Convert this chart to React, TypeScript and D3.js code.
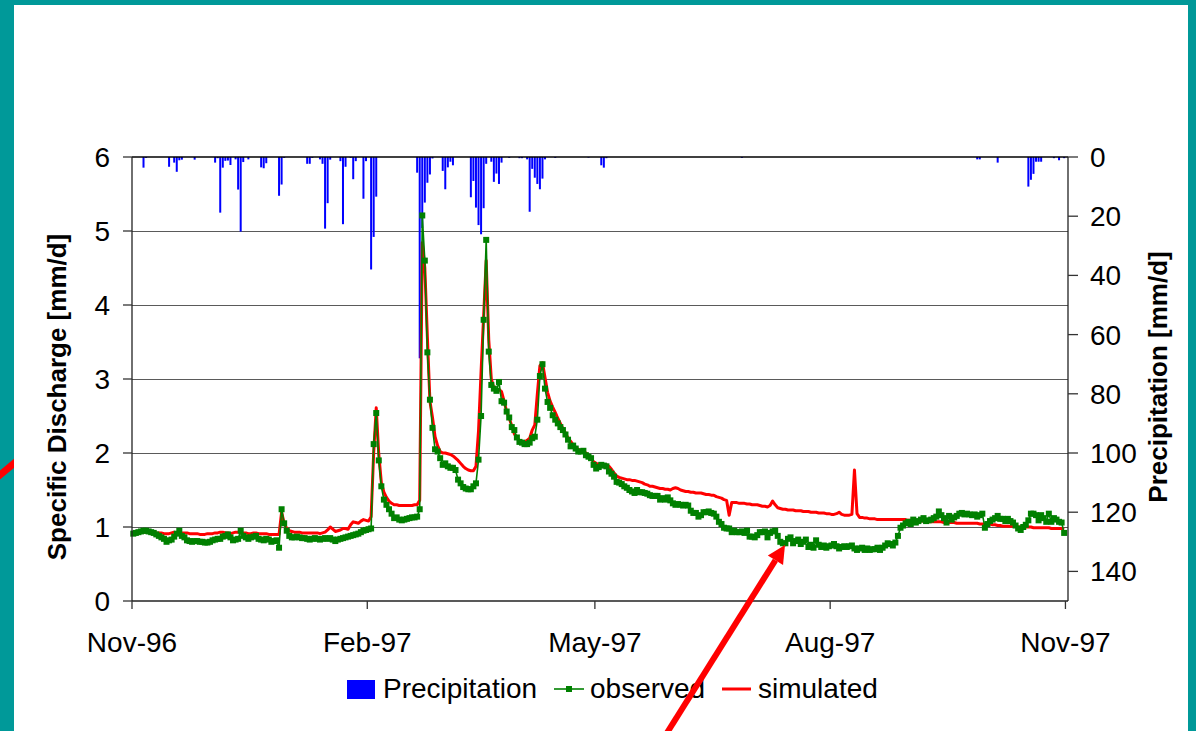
import React from "react";
import * as d3 from "d3";

const startDate = new Date(Date.UTC(1996, 10, 1));
const endDate = new Date(Date.UTC(1997, 10, 2));
const tickDates = [
  new Date(Date.UTC(1996, 10, 1)),
  new Date(Date.UTC(1997, 1, 1)),
  new Date(Date.UTC(1997, 4, 1)),
  new Date(Date.UTC(1997, 7, 1)),
  new Date(Date.UTC(1997, 10, 1)),
];
const tickLabels = ["Nov-96", "Feb-97", "May-97", "Aug-97", "Nov-97"];
const leftTicks = [0, 1, 2, 3, 4, 5, 6];
const rightTicks = [0, 20, 40, 60, 80, 100, 120, 140];
const legendLabels = ["Precipitation", "observed", "simulated"];
const leftTitle = "Specific Discharge [mm/d]";
const rightTitle = "Precipitation [mm/d]";

// daily observed specific discharge, 1 Nov 1996 .. 31 Oct 1997
const observed = [
  0.91,0.92,0.93,0.94,0.95,0.95,0.94,0.93,0.92,0.90,
  0.88,0.86,0.84,0.80,0.82,0.83,0.87,0.91,0.95,0.88,
  0.86,0.82,0.81,0.80,0.81,0.81,0.80,0.80,0.79,0.79,
  0.80,0.82,0.83,0.84,0.84,0.87,0.88,0.90,0.86,0.82,
  0.83,0.84,0.95,0.88,0.86,0.84,0.86,0.87,0.88,0.84,
  0.83,0.82,0.84,0.83,0.80,0.81,0.82,0.72,1.24,1.05,
  0.95,0.88,0.86,0.86,0.87,0.86,0.85,0.85,0.84,0.83,
  0.84,0.85,0.84,0.83,0.84,0.85,0.84,0.85,0.83,0.81,
  0.83,0.84,0.85,0.86,0.87,0.88,0.89,0.90,0.91,0.93,
  0.95,0.96,0.97,0.98,2.12,2.54,1.90,1.55,1.37,1.30,
  1.24,1.18,1.12,1.13,1.10,1.09,1.10,1.11,1.12,1.13,
  1.13,1.14,1.24,5.21,4.60,3.36,2.72,2.34,2.05,2.02,
  1.93,1.84,1.86,1.82,1.80,1.80,1.77,1.64,1.59,1.54,
  1.52,1.51,1.51,1.55,1.59,1.91,2.50,3.80,4.88,3.37,
  2.92,2.87,2.84,2.96,2.70,2.68,2.56,2.48,2.35,2.31,
  2.21,2.15,2.14,2.12,2.12,2.14,2.20,2.22,2.45,3.04,
  3.20,2.87,2.69,2.61,2.51,2.45,2.40,2.35,2.31,2.25,
  2.18,2.09,2.10,2.06,2.02,2.02,2.03,1.97,1.95,1.93,
  1.84,1.79,1.81,1.84,1.83,1.82,1.75,1.72,1.68,1.61,
  1.60,1.58,1.55,1.53,1.50,1.48,1.46,1.50,1.47,1.47,
  1.46,1.45,1.43,1.42,1.42,1.42,1.37,1.39,1.37,1.40,
  1.36,1.32,1.30,1.31,1.30,1.29,1.30,1.29,1.22,1.19,
  1.19,1.14,1.16,1.20,1.20,1.21,1.19,1.18,1.14,1.07,
  1.04,0.99,0.98,0.98,0.93,0.95,0.93,0.93,0.94,0.92,
  0.95,0.87,0.87,0.86,0.89,0.93,0.93,0.94,0.86,0.92,
  0.94,0.95,0.88,0.80,0.78,0.78,0.84,0.86,0.78,0.81,
  0.83,0.77,0.80,0.83,0.73,0.76,0.72,0.82,0.76,0.73,
  0.75,0.72,0.74,0.75,0.77,0.74,0.71,0.73,0.74,0.73,
  0.74,0.75,0.71,0.69,0.71,0.72,0.69,0.71,0.69,0.70,
  0.70,0.72,0.69,0.72,0.75,0.78,0.77,0.75,0.79,0.88,
  0.99,1.02,1.05,1.07,1.04,1.10,1.06,1.08,1.10,1.12,
  1.08,1.09,1.10,1.12,1.14,1.21,1.16,1.12,1.06,1.15,
  1.10,1.13,1.15,1.18,1.19,1.17,1.18,1.17,1.16,1.17,
  1.14,1.16,1.18,0.99,1.04,1.08,1.10,1.12,1.15,1.11,
  1.11,1.08,1.11,1.08,1.06,1.02,0.98,0.96,1.00,1.03,
  1.09,1.18,1.18,1.16,1.09,1.16,1.12,1.07,1.18,1.07,
  1.12,1.10,1.07,1.06,0.92,
];

// daily simulated specific discharge
const simulated = [
  0.93,0.94,0.94,0.94,0.93,0.93,0.93,0.92,0.92,0.92,
  0.92,0.92,0.91,0.91,0.91,0.92,0.93,0.92,0.92,0.92,
  0.92,0.92,0.91,0.91,0.91,0.91,0.90,0.90,0.90,0.91,
  0.91,0.91,0.92,0.92,0.93,0.93,0.92,0.92,0.91,0.92,
  0.93,0.93,0.92,0.92,0.92,0.91,0.91,0.92,0.92,0.91,
  0.91,0.91,0.91,0.90,0.90,0.90,0.90,0.90,1.20,1.05,
  0.98,0.95,0.94,0.93,0.93,0.93,0.92,0.92,0.92,0.92,
  0.92,0.92,0.92,0.91,0.92,0.93,0.96,1.00,0.97,0.94,
  0.95,0.96,0.98,0.98,0.97,1.03,1.07,1.06,1.05,1.08,
  1.10,1.09,1.08,1.14,2.00,2.61,1.98,1.60,1.47,1.40,
  1.35,1.32,1.30,1.30,1.29,1.29,1.29,1.29,1.29,1.29,
  1.30,1.30,1.36,4.84,4.50,3.57,2.70,2.48,2.22,2.10,
  2.02,2.00,2.00,1.99,1.98,1.96,1.93,1.90,1.86,1.82,
  1.79,1.77,1.76,1.76,1.82,2.30,3.10,3.85,4.60,3.53,
  3.00,2.88,2.84,2.86,2.83,2.70,2.56,2.47,2.37,2.26,
  2.20,2.17,2.15,2.15,2.17,2.20,2.31,2.38,2.80,3.18,
  3.22,3.02,2.82,2.70,2.62,2.55,2.47,2.40,2.33,2.27,
  2.20,2.16,2.11,2.08,2.05,2.03,2.01,2.00,1.97,1.93,
  1.88,1.86,1.85,1.84,1.84,1.84,1.82,1.78,1.73,1.69,
  1.67,1.66,1.65,1.64,1.64,1.63,1.63,1.62,1.61,1.60,
  1.58,1.57,1.55,1.55,1.54,1.53,1.52,1.52,1.51,1.51,
  1.50,1.52,1.53,1.52,1.50,1.49,1.48,1.48,1.47,1.47,
  1.46,1.46,1.46,1.45,1.44,1.44,1.43,1.43,1.41,1.40,
  1.39,1.37,1.36,1.16,1.33,1.33,1.33,1.32,1.32,1.32,
  1.31,1.31,1.30,1.30,1.30,1.29,1.28,1.28,1.27,1.29,
  1.35,1.30,1.26,1.25,1.24,1.24,1.23,1.23,1.23,1.22,
  1.22,1.22,1.21,1.21,1.21,1.20,1.20,1.20,1.19,1.19,
  1.19,1.18,1.18,1.17,1.17,1.18,1.20,1.17,1.16,1.16,
  1.16,1.17,1.77,1.18,1.13,1.13,1.12,1.12,1.11,1.11,
  1.11,1.10,1.10,1.10,1.10,1.10,1.10,1.10,1.10,1.10,
  1.10,1.10,1.10,1.09,1.09,1.09,1.09,1.08,1.08,1.08,
  1.08,1.07,1.07,1.07,1.07,1.07,1.07,1.06,1.06,1.06,
  1.06,1.06,1.05,1.05,1.05,1.05,1.05,1.05,1.05,1.05,
  1.05,1.04,1.04,1.04,1.04,1.04,1.03,1.03,1.02,1.02,
  1.01,1.01,1.01,1.01,1.01,1.01,1.00,1.00,1.00,1.00,
  1.00,1.00,0.99,0.99,0.99,0.99,0.99,0.99,0.99,0.98,
  0.98,0.98,0.98,0.98,0.97,
];

// daily precipitation (day index from 1 Nov 1996, mm/d)
const precipDay = [
  4,5,14,16,17,18,19,24,32,33,34,35,36,37,38,40,41,42,43,45,50,51,52,
  57,58,59,68,69,70,73,74,75,76,77,81,82,83,85,86,87,90,91,93,94,95,
  111,112,113,114,115,116,117,121,122,123,124,125,132,133,134,135,136,137,138,
  140,141,142,143,144,147,151,152,154,155,156,157,158,159,160,161,165,178,
  183,184,185,238,330,331,338,350,351,352,353,354,355,360,362,364,
];
const precipMm = [
  3.6,0.3,3.3,1.9,5.0,1.1,0.9,0.9,1.9,0.4,18.8,3.6,1.3,1.2,2.7,0.8,11.0,25.2,1.7,0.8,3.5,3.8,2.1,
  13.1,9.3,0.3,2.3,2.3,0.3,0.8,2.3,24.2,15.6,0.9,1.4,22.7,3.3,0.3,7.5,1.4,14.1,1.4,38.0,27.0,13.4,
  5.3,68.0,24.0,15.4,8.7,5.9,0.5,4.7,10.9,3.5,1.6,2.8,13.6,8.1,17.1,23.0,26.1,17.3,2.3,
  1.6,8.4,5.6,9.1,1.9,0.3,0.4,0.4,0.8,18.5,4.0,7.0,9.1,10.9,7.3,0.8,0.3,0.2,
  2.8,3.6,0.4,0.3,0.8,0.8,1.9,10.0,7.7,5.7,1.6,1.6,1.6,0.4,1.1,0.4,
];

const FONT = "'Liberation Sans', Arial, Helvetica, sans-serif";
const TEAL = "#009999";

export default function App() {
  const x = d3.scaleUtc().domain([startDate, endDate]).range([132, 1068]);
  const yL = d3.scaleLinear().domain([0, 6]).range([601, 157]);
  const yR = d3.scaleLinear().domain([0, 150]).range([157, 601]);
  const dayX = (i: number) =>
    x(d3.utcHour.offset(d3.utcDay.offset(startDate, i), 12));

  const line = d3
    .line<number>()
    .x((_, i) => dayX(i))
    .y((d) => yL(d));

  // arrow geometry
  const tail = { x: 660, y: 744 };
  const tip = { x: 785, y: 545 };
  const len = Math.hypot(tip.x - tail.x, tip.y - tail.y);
  const ux = (tip.x - tail.x) / len;
  const uy = (tip.y - tail.y) / len;
  const hl = 18;
  const hw = 9;
  const bx = tip.x - hl * ux;
  const by = tip.y - hl * uy;
  const head = `${tip.x},${tip.y} ${bx - hw * uy},${by + hw * ux} ${bx + hw * uy},${by - hw * ux}`;

  return (
    <svg
      width={1196}
      height={731}
      style={{ position: "absolute", left: 0, top: 0, display: "block" }}
      fontFamily={FONT}
    >
      <rect x={0} y={0} width={1196} height={731} fill={TEAL} />
      <line x1={-6} y1={480} x2={24} y2={455} stroke="#ff0000" strokeWidth={7} />
      <rect x={14} y={5} width={1174} height={740} fill="#ffffff" />

      {/* gridlines */}
      {leftTicks.slice(1, 6).map((t) => (
        <line
          key={"g" + t}
          x1={132}
          x2={1068}
          y1={Math.round(yL(t)) + 0.5}
          y2={Math.round(yL(t)) + 0.5}
          stroke="#5a5a5a"
          strokeWidth={1}
        />
      ))}

      {/* precipitation bars */}
      {precipDay.map((d, i) => (
        <rect
          key={"p" + i}
          x={dayX(d) - 1}
          y={yR(0)}
          width={2}
          height={yR(precipMm[i]) - yR(0)}
          fill="#0000ff"
        />
      ))}

      {/* simulated */}
      <path d={line(simulated) || ""} fill="none" stroke="#ff0000" strokeWidth={3} strokeLinejoin="round" />

      {/* observed */}
      <path d={line(observed) || ""} fill="none" stroke="#008000" strokeWidth={1.6} />
      {observed.map((v, i) => (
        <rect key={"o" + i} x={dayX(i) - 3} y={yL(v) - 3} width={6} height={6} fill="#008000" />
      ))}

      {/* frame */}
      <line x1={132} x2={1068} y1={157} y2={157} stroke="#000" strokeWidth={1.5} />
      <line x1={132} x2={132} y1={157} y2={601} stroke="#222" strokeWidth={1.3} />
      <line x1={1068} x2={1068} y1={157} y2={601} stroke="#222" strokeWidth={1.3} />
      <line x1={132} x2={1068} y1={601} y2={601} stroke="#222" strokeWidth={1.3} />

      {/* left axis */}
      {leftTicks.map((t) => (
        <g key={"l" + t}>
          <line x1={123} x2={132} y1={yL(t)} y2={yL(t)} stroke="#333" strokeWidth={1.3} />
          <text x={110} y={yL(t) + 10} fontSize={28} textAnchor="end" fill="#000">
            {t}
          </text>
        </g>
      ))}

      {/* right axis */}
      {rightTicks.map((t) => (
        <g key={"r" + t}>
          <line x1={1068} x2={1078} y1={yR(t)} y2={yR(t)} stroke="#333" strokeWidth={1.3} />
          <text x={1090} y={yR(t) + 10} fontSize={28} textAnchor="start" fill="#000">
            {t}
          </text>
        </g>
      ))}

      {/* x axis */}
      {tickDates.map((d, i) => (
        <g key={"x" + i}>
          <line x1={x(d)} x2={x(d)} y1={601} y2={609} stroke="#333" strokeWidth={1.3} />
          <text x={x(d)} y={652} fontSize={28} textAnchor="middle" fill="#000">
            {tickLabels[i]}
          </text>
        </g>
      ))}

      {/* axis titles */}
      <text
        transform="translate(66,397) rotate(-90)"
        fontSize={26}
        fontWeight="bold"
        textAnchor="middle"
        fill="#000"
      >
        {leftTitle}
      </text>
      <text
        transform="translate(1167,377) rotate(-90)"
        fontSize={26}
        fontWeight="bold"
        textAnchor="middle"
        fill="#000"
      >
        {rightTitle}
      </text>

      {/* legend */}
      <rect x={347} y={680} width={28} height={19} fill="#0000ff" />
      <text x={383} y={698} fontSize={28} fill="#000">{legendLabels[0]}</text>
      <line x1={554} x2={584} y1={689} y2={689} stroke="#008000" strokeWidth={1.6} />
      <rect x={566} y={686} width={6} height={6} fill="#008000" />
      <text x={590} y={698} fontSize={28} fill="#000">{legendLabels[1]}</text>
      <line x1={722} x2={751} y1={689} y2={689} stroke="#ff0000" strokeWidth={3} />
      <text x={758} y={698} fontSize={28} fill="#000">{legendLabels[2]}</text>

      {/* annotation arrow */}
      <line x1={tail.x} y1={tail.y} x2={bx} y2={by} stroke="#ff0000" strokeWidth={6} />
      <polygon points={head} fill="#ff0000" />
    </svg>
  );
}
